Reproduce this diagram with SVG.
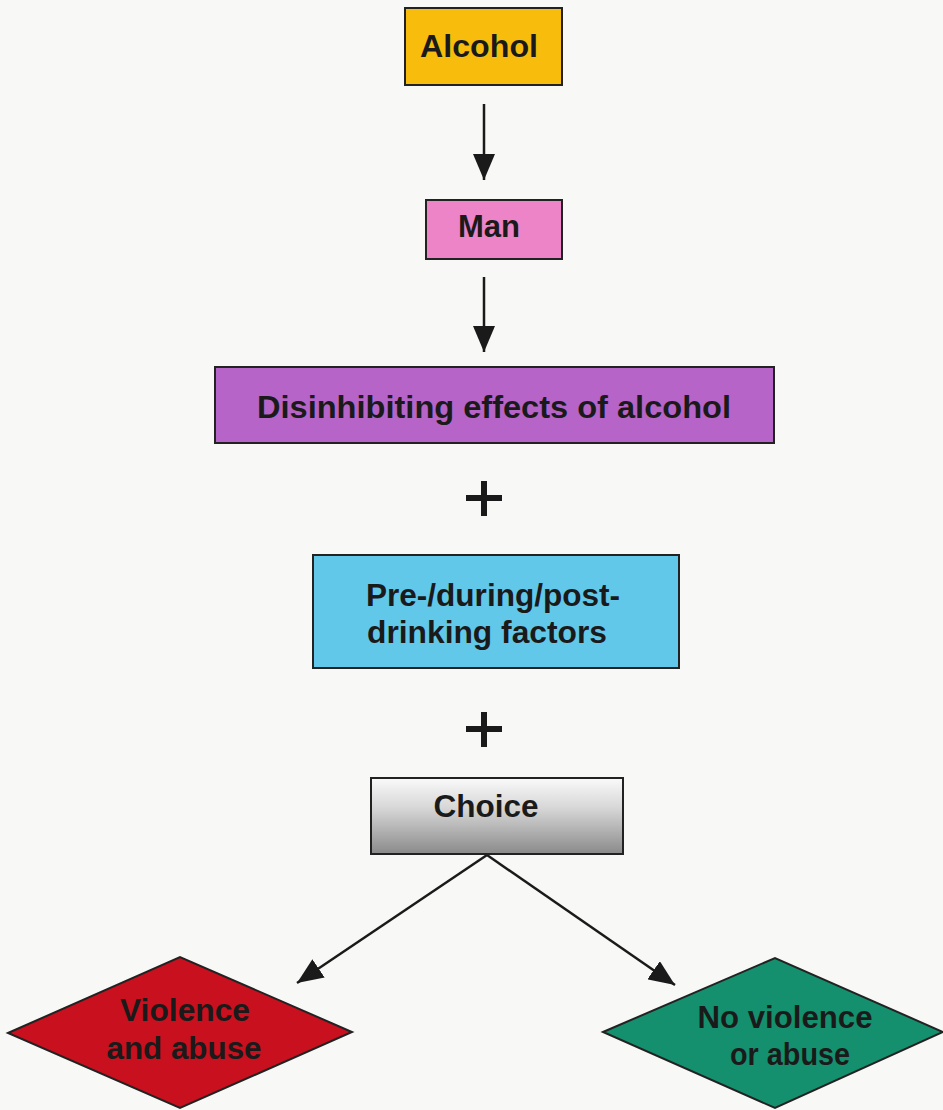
<svg xmlns="http://www.w3.org/2000/svg" width="943" height="1110" viewBox="0 0 943 1110">
<style>
.box{stroke:#222;stroke-width:2}
.t{font-family:"Liberation Sans",Arial,sans-serif;font-weight:bold;font-size:31px;fill:#1a1a1a;text-anchor:middle}
.c{stroke:#1a1a1a;stroke-width:2.5;fill:none}
</style>
<defs>
<linearGradient id="g" x1="0" y1="0" x2="0" y2="1">
<stop offset="0" stop-color="#fafafa"/>
<stop offset="0.4" stop-color="#d6d6d6"/>
<stop offset="1" stop-color="#8a8a8a"/>
</linearGradient>
<marker id="ah2" viewBox="0 0 10 10" refX="10" refY="5" markerWidth="26" markerHeight="22" markerUnits="userSpaceOnUse" orient="auto" preserveAspectRatio="none">
<path d="M0,0 L10,5 L0,10 z" fill="#1a1a1a"/>
</marker>
</defs>
<rect width="943" height="1110" fill="#f8f8f6"/>
<g id="connectors">
<line class="c" x1="484" y1="104" x2="484" y2="180" marker-end="url(#ah2)"/>
<line class="c" x1="484" y1="277" x2="484" y2="352" marker-end="url(#ah2)"/>
<line class="c" x1="487" y1="855" x2="297" y2="983" marker-end="url(#ah2)"/>
<line class="c" x1="487" y1="855" x2="675" y2="985" marker-end="url(#ah2)"/>
<path d="M466,498 H502 M484,481 V516" stroke="#1a1a1a" stroke-width="6" fill="none"/>
<path d="M466,729 H502 M484,712 V747" stroke="#1a1a1a" stroke-width="6" fill="none"/>
</g>
<g id="alcohol">
<rect class="box" x="405" y="8" width="157" height="77" fill="#f8bd0c"/>
<text class="t" x="479" y="57" textLength="118" lengthAdjust="spacingAndGlyphs">Alcohol</text>
</g>
<g id="man">
<rect class="box" x="426" y="200" width="136" height="59" fill="#ee84c8"/>
<text class="t" x="489" y="237" textLength="62" lengthAdjust="spacingAndGlyphs">Man</text>
</g>
<g id="disinhibiting">
<rect class="box" x="215" y="367" width="559" height="76" fill="#b664c8"/>
<text class="t" x="494" y="418" textLength="474" lengthAdjust="spacingAndGlyphs">Disinhibiting effects of alcohol</text>
</g>
<g id="factors">
<rect class="box" x="313" y="555" width="366" height="113" fill="#62c8ea"/>
<text class="t" x="493" y="606" textLength="254" lengthAdjust="spacingAndGlyphs">Pre-/during/post-</text>
<text class="t" x="487" y="643" textLength="240" lengthAdjust="spacingAndGlyphs">drinking factors</text>
</g>
<g id="choice">
<rect class="box" x="371" y="778" width="252" height="76" fill="url(#g)"/>
<text class="t" x="486" y="817" textLength="105" lengthAdjust="spacingAndGlyphs">Choice</text>
</g>
<g id="violence">
<polygon class="box" points="8,1033 180,957 352,1032 180,1108" fill="#c8101e"/>
<text class="t" x="185" y="1021" textLength="130" lengthAdjust="spacingAndGlyphs">Violence</text>
<text class="t" x="184" y="1059" textLength="155" lengthAdjust="spacingAndGlyphs">and abuse</text>
</g>
<g id="noviolence">
<polygon class="box" points="603,1032 775,958 943,1032 775,1108" fill="#14906e"/>
<text class="t" x="785" y="1028" textLength="175" lengthAdjust="spacingAndGlyphs">No violence</text>
<text class="t" x="790" y="1065" textLength="120" lengthAdjust="spacingAndGlyphs">or abuse</text>
</g>
</svg>
